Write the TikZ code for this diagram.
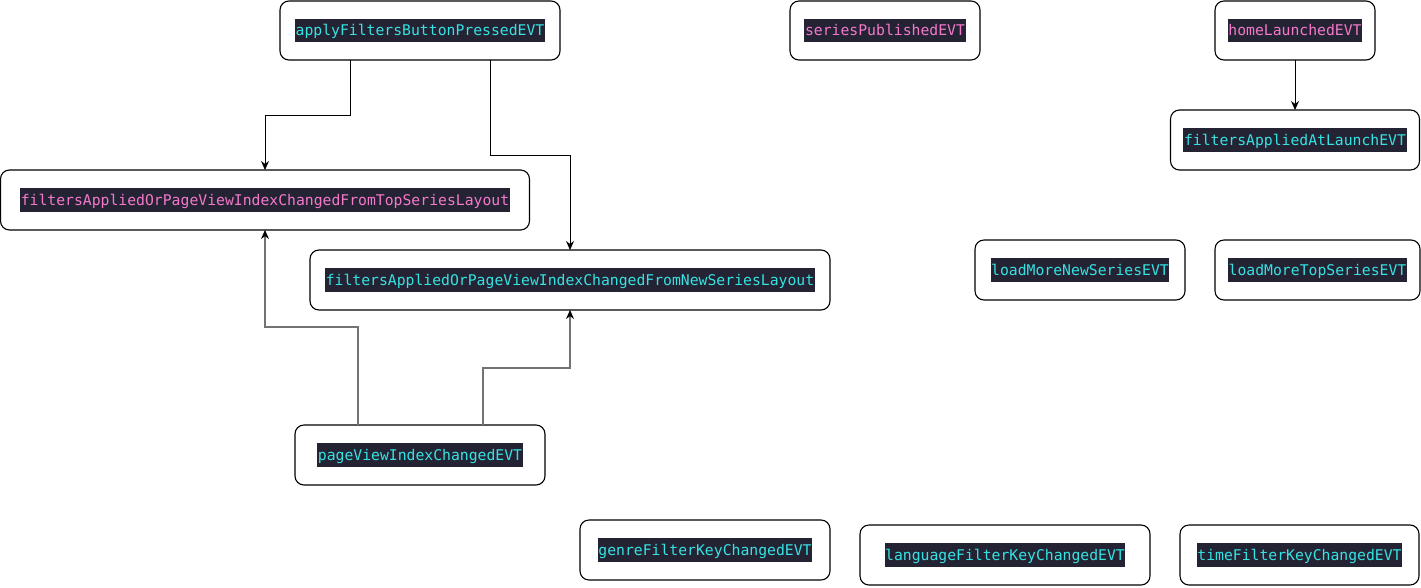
\documentclass[tikz,border=0pt]{standalone}
\usepackage{fontspec}
\setmonofont{DejaVu Sans Mono}
\usetikzlibrary{arrows.meta}
\definecolor{evbg}{HTML}{242334}
\definecolor{evcyan}{HTML}{36E2E2}
\definecolor{evpink}{HTML}{F478CA}
% highlighted event label: dark band behind coloured monospace text
\newcommand{\evlabel}[2]{{\setlength{\fboxsep}{0.6pt}\colorbox{evbg}{\rule[-6pt]{0pt}{22pt}\textcolor{#1}{#2}}}}
\tikzset{
  evbox/.style={draw, line width=1.1pt, rounded corners=9pt, inner sep=0pt, outer sep=0pt,
    font=\ttfamily\fontsize{14.75pt}{16pt}\selectfont},
  flow/.style={line width=1pt, -{Stealth[length=9pt,width=8pt]}},
  softflow/.style={line width=1.1pt, draw=black!55, -{Stealth[length=9pt,width=8pt,black]}}
}
\begin{document}
\begin{tikzpicture}[x=1pt,y=-1pt]
\useasboundingbox (0,0) rectangle (1421,587);
% top row
\node[evbox, minimum width=280pt, minimum height=59pt] (apply) at (420,30.5) {\evlabel{evcyan}{applyFiltersButtonPressedEVT}};
\node[evbox, minimum width=190pt, minimum height=59pt] (pub) at (885,30.5) {\evlabel{evpink}{seriesPublishedEVT}};
\node[evbox, minimum width=160pt, minimum height=59pt] (home) at (1295,30.5) {\evlabel{evpink}{homeLaunchedEVT}};
\node[evbox, minimum width=249pt, minimum height=60pt] (launch) at (1295,140) {\evlabel{evcyan}{filtersAppliedAtLaunchEVT}};
% layout events
\node[evbox, minimum width=529pt, minimum height=60pt] (top) at (265,200) {\evlabel{evpink}{filtersAppliedOrPageViewIndexChangedFromTopSeriesLayout}};
\node[evbox, minimum width=520pt, minimum height=60pt] (new) at (570,280) {\evlabel{evcyan}{filtersAppliedOrPageViewIndexChangedFromNewSeriesLayout}};
\node[evbox, minimum width=210pt, minimum height=60pt] (lmnew) at (1080,270) {\evlabel{evcyan}{loadMoreNewSeriesEVT}};
\node[evbox, minimum width=205pt, minimum height=60pt] (lmtop) at (1317.5,270) {\evlabel{evcyan}{loadMoreTopSeriesEVT}};
\node[evbox, minimum width=250pt, minimum height=60pt] (page) at (420,455) {\evlabel{evcyan}{pageViewIndexChangedEVT}};
% filter key events
\node[evbox, minimum width=250pt, minimum height=60pt] (genre) at (705,550) {\evlabel{evcyan}{genreFilterKeyChangedEVT}};
\node[evbox, minimum width=290pt, minimum height=60pt] (lang) at (1005,555) {\evlabel{evcyan}{languageFilterKeyChangedEVT}};
\node[evbox, minimum width=239pt, minimum height=60pt] (time) at (1299.5,555) {\evlabel{evcyan}{timeFilterKeyChangedEVT}};
% connectors
\draw[flow] (apply.south -| 350,0) |- (265,115) -- (top.north -| 265,0);
\draw[flow] (apply.south -| 490,0) |- (570,155) -- (new.north -| 570,0);
\draw[flow] (home) -- (launch);
\draw[softflow] (page.north -| 358,0) |- (265,327) -- (top.south -| 265,0);
\draw[softflow] (page.north -| 483,0) |- (570,368) -- (new.south -| 570,0);
\end{tikzpicture}
\end{document}
